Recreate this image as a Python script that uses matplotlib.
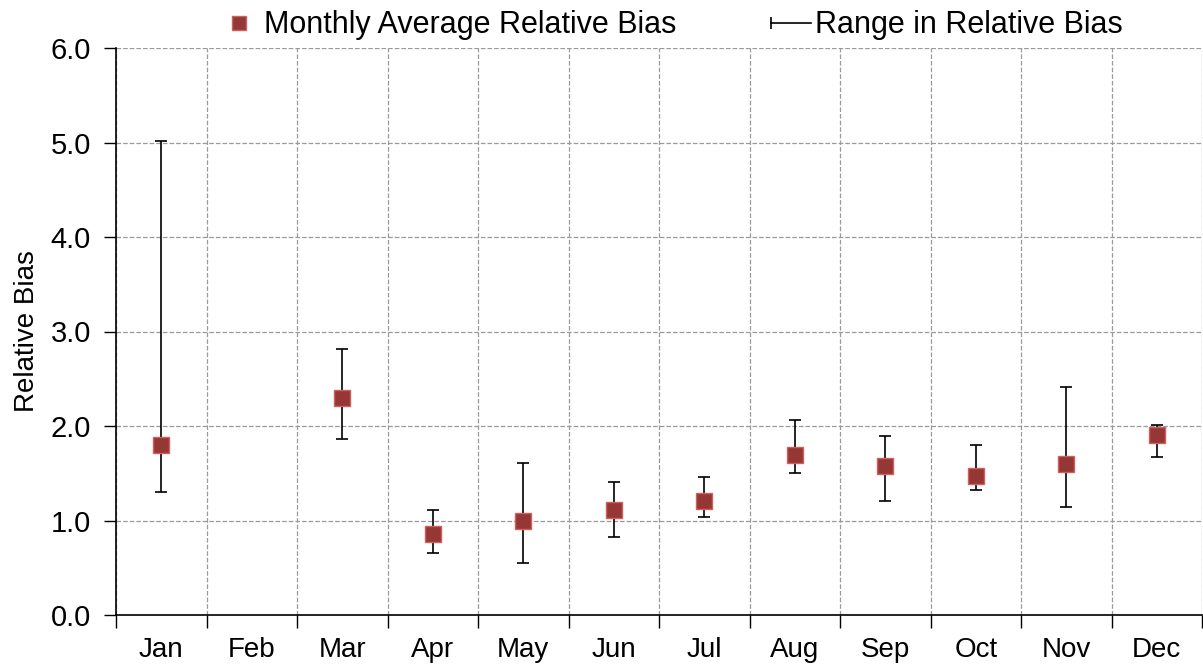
import numpy as np
from matplotlib import pyplot as plt
from matplotlib.lines import Line2D

plt.rcParams["font.family"] = ["Liberation Sans", "DejaVu Sans"]

MONTHS = ["Jan", "Feb", "Mar", "Apr", "May", "Jun",
          "Jul", "Aug", "Sep", "Oct", "Nov", "Dec"]
avg_bias = [1.80, np.nan, 2.30, 0.86, 1.00, 1.11, 1.21, 1.69, 1.58, 1.47, 1.60, 1.90]
max_bias = [5.02, np.nan, 2.81, 1.11, 1.61, 1.41, 1.46, 2.06, 1.89, 1.80, 2.41, 2.01]
min_bias = [1.30, np.nan, 1.86, 0.66, 0.55, 0.83, 1.04, 1.50, 1.21, 1.32, 1.14, 1.67]

MARKER_FACE = "#953735"
MARKER_EDGE = "#D0605D"
GRID = "#9a9a9a"


class RangeHandler:
    # horizontal line with a single cap at its left end, like the reference key
    def legend_artist(self, legend, orig_handle, fontsize, handlebox):
        x0, y0 = -handlebox.xdescent, -handlebox.ydescent
        w, h = handlebox.width, handlebox.height
        line = Line2D([x0, x0 + w], [y0 + h / 2] * 2, color="black", linewidth=1.2)
        cap = Line2D([x0], [y0 + h / 2], marker="|", markersize=8,
                     markeredgewidth=1.2, color="black")
        handlebox.add_artist(line)
        handlebox.add_artist(cap)
        return line


x = np.arange(len(MONTHS))
avg = np.array(avg_bias)
lo = avg - np.array(min_bias)
hi = np.array(max_bias) - avg

fig = plt.figure(figsize=(12.03, 6.69), dpi=100)
ax = fig.add_axes([116 / 1203, 1 - 615 / 669, 1 - 116 / 1203 - 0.0008, (615 - 48) / 669])

ax.errorbar(x, avg, yerr=[lo, hi], fmt="none", ecolor="black",
            elinewidth=1.2, capsize=4.5, capthick=1.2, zorder=3)
ax.plot(x, avg, "s", markersize=11, markerfacecolor=MARKER_FACE,
        markeredgecolor=MARKER_EDGE, markeredgewidth=1.0, zorder=4)

ax.set_xlim(-0.5, len(MONTHS) - 0.5)
ax.set_ylim(0, 6)

# boundaries between months carry ticks and grid, labels sit in the middle
ax.set_xticks(np.arange(-0.5, len(MONTHS)), labels=[""] * (len(MONTHS) + 1))
ax.set_xticks(x, labels=MONTHS, minor=True)
ax.tick_params(axis="x", which="major", direction="out", length=9, width=1.0)
ax.tick_params(axis="x", which="minor", length=0, labelsize=20, pad=16)

ax.set_yticks(np.arange(0, 7, 1.0))
ax.set_yticklabels([f"{v:.1f}" for v in np.arange(0, 7, 1.0)])
ax.tick_params(axis="y", direction="out", length=9, width=1.0, labelsize=21, pad=9)

ax.grid(True, which="major", axis="both", color=GRID, linestyle="--", linewidth=0.9)
ax.set_axisbelow(True)

for side in ["top", "right"]:
    ax.spines[side].set_visible(False)
for side in ["left", "bottom"]:
    ax.spines[side].set_linewidth(1.2)
    ax.spines[side].set_zorder(5)

ax.set_ylabel("Relative Bias", fontsize=20, labelpad=8)

avg_handle = Line2D([], [], linestyle="none", marker="s", markersize=10,
                    markerfacecolor=MARKER_FACE, markeredgecolor=MARKER_EDGE)
range_handle = Line2D([], [], color="black")
fig.legend([avg_handle, range_handle],
           ["Monthly Average Relative Bias", "Range in Relative Bias"],
           handler_map={range_handle: RangeHandler()},
           loc="center", bbox_to_anchor=(0.558, 0.962), ncol=2, frameon=False,
           fontsize=22, handlelength=1.3, handletextpad=0.15, columnspacing=3.1)

plt.savefig("out.png", dpi=100)
plt.close()
